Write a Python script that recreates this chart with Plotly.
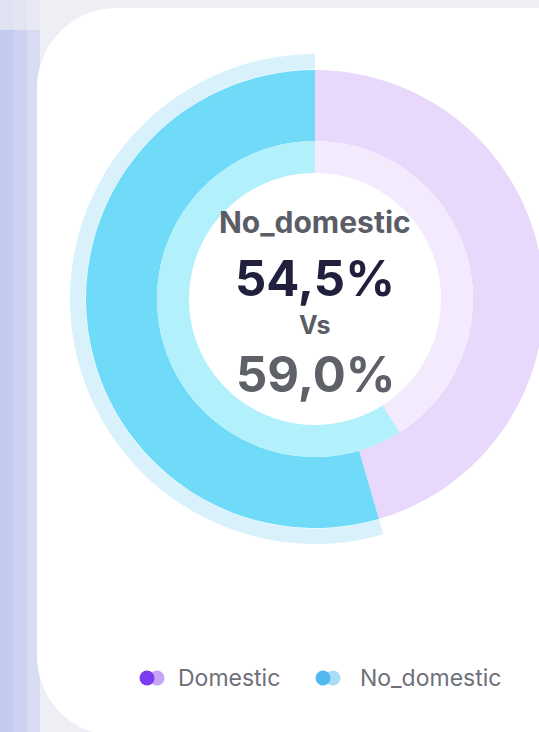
import plotly.graph_objects as go

# ---- data ----
labels = ["Domestic", "No_domestic"]
outer_values = [45.5, 54.5]   # current period share
inner_values = [41.0, 59.0]   # comparison period share
center_title = "No_domestic"
center_main = "54,5%"
center_vs = "Vs"
center_compare = "59,0%"

# ---- styling ----
W, H = 570, 732
FONT = "Inter"
outer_colors = ["#e7d8fc", "#6fdbf8"]
inner_colors = ["#f3ebfd", "#b2f0fb"]
halo_colors = ["rgba(0,0,0,0)", "#d9f1fb"]
legend_dots = {"Domestic": ("#7b3cf0", "#c6a4f6"), "No_domestic": ("#52b9ef", "#a9dcf6")}

CX, CY = 315, 299  # donut centre in pixels


def px(x):
    return x / W


def py(y):
    return 1 - y / H


def domain_for(r):
    return dict(x=[px(CX - r), px(CX + r)], y=[py(CY + r), py(CY - r)])


def ring(values, colors, r_out, r_in, name):
    return go.Pie(
        labels=labels, values=values, name=name,
        domain=domain_for(r_out), hole=r_in / r_out,
        sort=False, direction="clockwise", rotation=0,
        marker=dict(colors=colors, line=dict(width=0)),
        textinfo="none", hoverinfo="skip", showlegend=False,
    )


fig = go.Figure()
fig.add_trace(ring(outer_values, halo_colors, 245, 229.5, "halo"))
fig.add_trace(ring(outer_values, outer_colors, 229, 158, "outer"))
fig.add_trace(ring(inner_values, inner_colors, 158, 126, "inner"))

shapes = []

# left gradient strip behind the card
strip = [(0, 13, "#c3caef"), (13, 27, "#cdd2f0"), (27, 40, "#d8dbf2")]
for x0, x1, c in strip:
    shapes.append(dict(type="rect", xref="paper", yref="paper", layer="below",
                       x0=px(x0), x1=px(x1), y0=0, y1=1, fillcolor=c, line=dict(width=0)))
top_fade = [(0, 13, "#dfe2f3"), (13, 27, "#e3e5f3"), (27, 40, "#e8e9f4")]
for x0, x1, c in top_fade:
    shapes.append(dict(type="rect", xref="paper", yref="paper", layer="below",
                       x0=px(x0), x1=px(x1), y0=py(30), y1=1, fillcolor=c, line=dict(width=0)))

# white rounded card
L, T, R_, B, rad = 37, 8, W + 40, 736, 80
k = 0.5523 * rad


def P(x, y):
    return f"{px(x):.5f},{py(y):.5f}"


card = (
    f"M {P(L, T + rad)} "
    f"C {P(L, T + rad - k)} {P(L + rad - k, T)} {P(L + rad, T)} "
    f"L {P(R_, T)} L {P(R_, B)} L {P(L + rad, B)} "
    f"C {P(L + rad - k, B)} {P(L, B - rad + k)} {P(L, B - rad)} Z"
)
shapes.append(dict(type="path", xref="paper", yref="paper", layer="below",
                   path=card, fillcolor="#ffffff", line=dict(width=0)))

# legend markers (two overlapping dots per entry)
legend_items = [("Domestic", 147, 176), ("No_domestic", 323, 358)]
LY, DR = 678, 7.5
for name, dx, _ in legend_items:
    dark, light = legend_dots[name]
    for cx, c in ((dx + 10, light), (dx, dark)):
        shapes.append(dict(type="circle", xref="paper", yref="paper", layer="above",
                           x0=px(cx - DR), x1=px(cx + DR), y0=py(LY + DR), y1=py(LY - DR),
                           fillcolor=c, line=dict(width=0)))

annotations = []
for name, _, tx in legend_items:
    annotations.append(dict(text=name, x=px(tx), y=py(LY), xref="paper", yref="paper",
                            xanchor="left", yanchor="middle", showarrow=False,
                            font=dict(family=FONT, size=23, color="#6e7079")))

center_lines = [
    (center_title, 222, 30, "#5a5d66"),
    (center_main, 278, 49, "#201f3c"),
    (center_vs, 325, 25, "#5a5d66"),
    (center_compare, 374, 49, "#5f6168"),
]
for txt, y, size, color in center_lines:
    annotations.append(dict(text=txt, x=px(CX), y=py(y), xref="paper", yref="paper",
                            xanchor="center", yanchor="middle", showarrow=False,
                            font=dict(family=FONT, size=size, color=color, weight=700)))

fig.update_layout(
    width=W, height=H, autosize=False,
    margin=dict(l=0, r=0, t=0, b=0, pad=0),
    paper_bgcolor="#eeeff4", plot_bgcolor="rgba(0,0,0,0)",
    shapes=shapes, annotations=annotations, showlegend=False,
)

fig.write_html(
    "out.html",
    config={"displayModeBar": False},
    post_script="document.body.style.margin='0';document.body.style.overflow='hidden';",
)
